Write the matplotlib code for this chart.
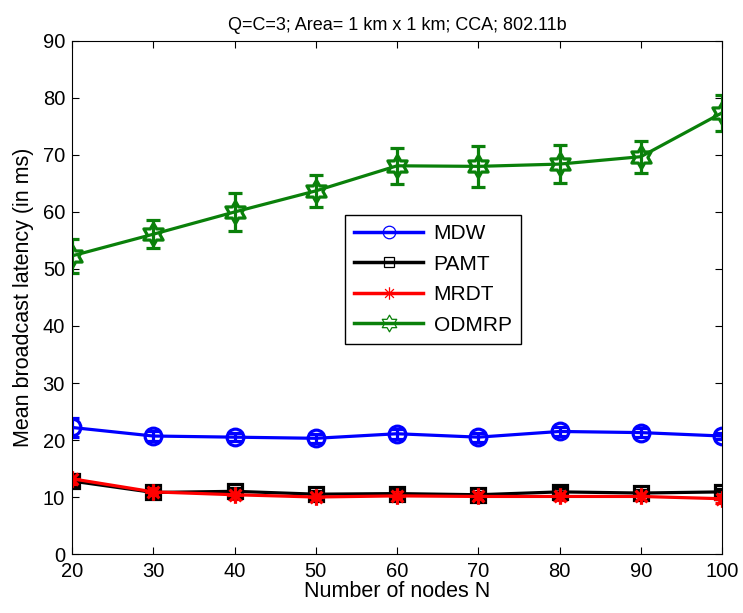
import matplotlib; matplotlib.use('Agg')
import numpy as np
import matplotlib.pyplot as plt
from matplotlib.path import Path

nodes = [20, 30, 40, 50, 60, 70, 80, 90, 100]
mdw = [22.2, 20.7, 20.5, 20.3, 21.1, 20.5, 21.5, 21.3, 20.7]
mdw_err = [1.6, 0.8, 0.7, 0.8, 0.9, 0.8, 0.8, 0.8, 0.6]
pamt = [12.8, 10.8, 11.0, 10.5, 10.6, 10.4, 10.9, 10.7, 10.9]
pamt_err = [0.8, 0.6, 0.6, 0.5, 0.6, 0.5, 0.6, 0.5, 0.5]
mrdt = [13.2, 10.9, 10.4, 10.0, 10.2, 10.1, 10.1, 10.1, 9.7]
mrdt_err = [0.9, 0.6, 0.7, 0.6, 0.6, 0.6, 0.6, 0.6, 0.7]
odmrp = [52.3, 56.1, 60.0, 63.7, 68.1, 68.0, 68.4, 69.7, 77.4]
odmrp_err = [3.0, 2.5, 3.3, 2.8, 3.2, 3.6, 3.3, 2.8, 3.2]

# MATLAB-like hexagram and asterisk markers
ang = np.deg2rad(90 + 30 * np.arange(12))
rad = np.where(np.arange(12) % 2 == 0, 1.0, 1 / np.sqrt(3))
hexv = np.column_stack([rad * np.cos(ang), rad * np.sin(ang)])
hexagram = Path(np.vstack([hexv, hexv[:1]]), closed=True)
astv, astc = [], []
for a in np.deg2rad([0, 45, 90, 135]):
  astv += [(np.cos(a), np.sin(a)), (-np.cos(a), -np.sin(a))]
  astc += [Path.MOVETO, Path.LINETO]
asterisk = Path(astv, astc)

plt.rcParams['font.family'] = ['Liberation Sans', 'DejaVu Sans']
fig = plt.figure(figsize=[7.43, 6.13], dpi=100)
ax = fig.add_axes([0.0969, 0.0962, 0.875, 0.837])

green = '#0a800a'
series = [
  (mdw, mdw_err, 'blue', 'o', 12, 'MDW'),
  (pamt, pamt_err, 'black', 's', 10, 'PAMT'),
  (mrdt, mrdt_err, 'red', asterisk, 12, 'MRDT'),
  (odmrp, odmrp_err, green, hexagram, 16, 'ODMRP'),
]
for vals, err, col, mk, ms, lab in series:
  ax.errorbar(nodes, vals, yerr=err, color=col, lw=2.3, elinewidth=2.3, capsize=5, capthick=2.3,
              marker=mk, ms=ms, mfc='none', mew=2.3, label=lab)

handles = [plt.Line2D([], [], color=c, lw=2.5, marker=m, mfc='none', mew=0.9, ms=ms * 0.75)
           for _, _, c, m, ms, _ in series]
ax.legend(handles, [s[5] for s in series], loc='upper left', bbox_to_anchor=(0.42, 0.661),
          fontsize=15, fancybox=False, edgecolor='black', framealpha=1, handlelength=3.3,
          borderpad=0.45, labelspacing=0.55, handletextpad=0.5, borderaxespad=0)

ax.set_xlim(20, 100)
ax.set_ylim(0, 90)
ax.set_xticks(np.arange(20, 101, 10))
ax.set_yticks(np.arange(0, 91, 10))
ax.tick_params(direction='in', labelsize=14.5, top=True, right=True, length=5, pad=5)
ax.tick_params(axis='x', pad=6)
ax.set_xlabel('Number of nodes N', fontsize=15.5, labelpad=0)
ax.set_ylabel('Mean broadcast latency (in ms)', fontsize=15.5, labelpad=6)
ax.set_title('Q=C=3; Area= 1 km x 1 km; CCA; 802.11b', fontsize=13, pad=8)
fig.savefig('out.png')
